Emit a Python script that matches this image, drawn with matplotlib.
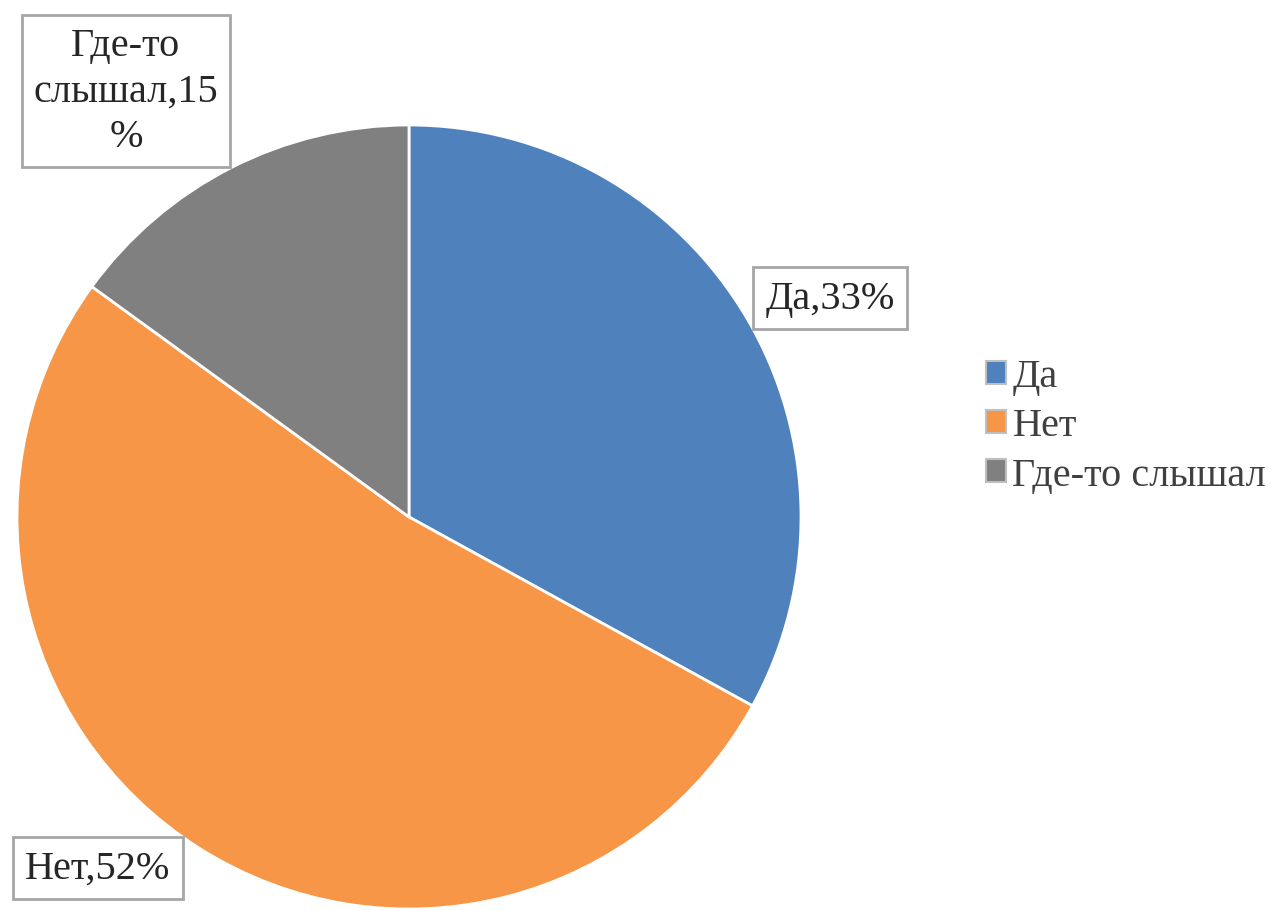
import matplotlib
matplotlib.use("Agg")
import matplotlib.pyplot as plt
from matplotlib.patches import Patch

labels = ["Да", "Нет", "Где-то слышал"]
values = [33, 52, 15]
label_texts = ["Да,33%", "Нет,52%", "Где-то\nслышал,15\n%"]
colors = ["#4F81BD", "#F79646", "#808080"]

plt.rcParams["font.family"] = ["Liberation Serif", "DejaVu Serif"]

W, H = 1286, 912
fig = plt.figure(figsize=(W / 100, H / 100), dpi=100)

# pie centre (409, 518) px, radius 392 px
cx, cy, r = 409, 518, 392
ax = fig.add_axes([(cx - r) / W, (H - cy - r) / H, 2 * r / W, 2 * r / H])
ax.pie(values, colors=colors, startangle=90, counterclock=False, radius=1,
       wedgeprops=dict(edgecolor="white", linewidth=2))
ax.set_xlim(-1, 1)
ax.set_ylim(-1, 1)
ax.set_aspect("auto")
ax.axis("off")

# label positions (pixel centres of boxes)
label_pos = [(830, 299), (98, 869), (126, 92)]
box = dict(boxstyle="square,pad=0.3", facecolor="white", edgecolor="#A6A6A6", linewidth=2)
for txt, (px, py) in zip(label_texts, label_pos):
    fig.text(px / W, 1 - py / H, txt, ha="center", va="center", fontsize=29,
             color="#262626", bbox=box, linespacing=1.3)

handles = [Patch(facecolor=c, edgecolor="#BFBFBF", linewidth=1.5) for c in colors]
fig.legend(handles, labels, loc="center left", bbox_to_anchor=(950 / W, 1 - 427 / H),
           frameon=False, fontsize=29, handlelength=0.5, handleheight=0.5,
           handletextpad=0.15, labelspacing=0.3, labelcolor="#404040")

fig.savefig("out.png", dpi=100)
